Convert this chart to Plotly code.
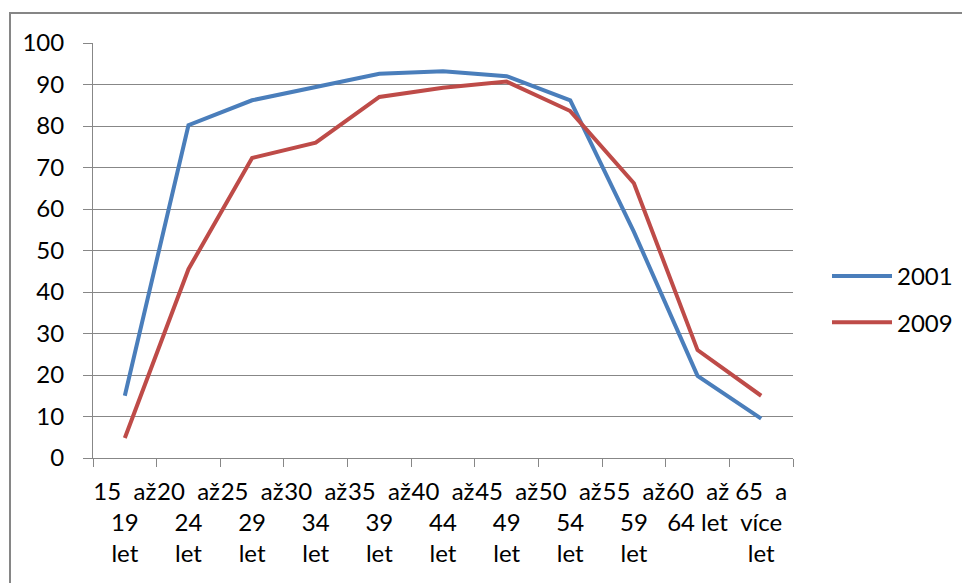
import plotly.graph_objects as go

# Age groups (wrapped the way the axis shows them)
age_groups = [
    "15\u00a0\u00a0až<br>19<br>let",
    "20\u00a0\u00a0až<br>24<br>let",
    "25\u00a0\u00a0až<br>29<br>let",
    "30\u00a0\u00a0až<br>34<br>let",
    "35\u00a0\u00a0až<br>39<br>let",
    "40\u00a0\u00a0až<br>44<br>let",
    "45\u00a0\u00a0až<br>49<br>let",
    "50\u00a0\u00a0až<br>54<br>let",
    "55\u00a0\u00a0až<br>59<br>let",
    "60\u00a0\u00a0až<br>64 let<br> ",
    "65\u00a0\u00a0a<br>více<br>let",
]

values_2001 = [15, 80.2, 86.2, 89.5, 92.6, 93.2, 92.0, 86.2, 54.5, 19.8, 9.5]
values_2009 = [4.8, 45.5, 72.3, 76.0, 87.0, 89.2, 90.7, 83.6, 66.2, 26.0, 15.0]

y_ticks = [0, 10, 20, 30, 40, 50, 60, 70, 80, 90, 100]

FONT = "Lato"
FSIZE = 24
GRID = "#878787"

W, H = 962, 583
L, R, T, B = 93, 169, 43, 125

fig = go.Figure()
fig.add_trace(go.Scatter(
    x=age_groups, y=values_2001, name="2001", mode="lines",
    line=dict(color="#4A7EBB", width=4), legendgroup="a",
))
fig.add_trace(go.Scatter(
    x=age_groups, y=values_2009, name="2009", mode="lines",
    line=dict(color="#BE4B48", width=4), legendgroup="b",
))

pw, ph = W - L - R, H - T - B
fig.add_shape(
    type="rect", xref="paper", yref="paper",
    x0=(10 - L) / pw, x1=(W + 10 - L) / pw,
    y0=(H - B - (H + 10)) / ph, y1=(H - B - 13) / ph,
    line=dict(color="#868686", width=2), fillcolor="rgba(0,0,0,0)",
    layer="below",
)

fig.update_layout(
    width=W, height=H,
    margin=dict(l=L, r=R, t=T, b=B, autoexpand=False),
    paper_bgcolor="white", plot_bgcolor="white",
    font=dict(family=FONT, size=FSIZE, color="#000000"),
    showlegend=True,
    legend=dict(
        x=(827 - L) / pw, y=(H - B - 254) / ph, xanchor="left", yanchor="top",
        tracegroupgap=12, itemwidth=60,
        font=dict(family=FONT, size=FSIZE, color="#000000"),
        bgcolor="rgba(0,0,0,0)",
    ),
    xaxis=dict(
        type="category", tickson="boundaries",
        showgrid=False, showline=True, linecolor=GRID, linewidth=1,
        ticks="outside", ticklen=8, tickcolor=GRID, tickwidth=1,
        tickangle=0, ticklabelstandoff=12,
        range=[-0.5, 10.5],
    ),
    yaxis=dict(
        range=[0, 100], tickvals=y_ticks, ticktext=[str(v) for v in y_ticks],
        showgrid=True, gridcolor=GRID, gridwidth=1,
        showline=True, linecolor=GRID, linewidth=1,
        ticks="outside", ticklen=9, tickcolor=GRID, tickwidth=1,
        ticklabelstandoff=14, zeroline=False,
    ),
)

fig.write_html("out.html")
